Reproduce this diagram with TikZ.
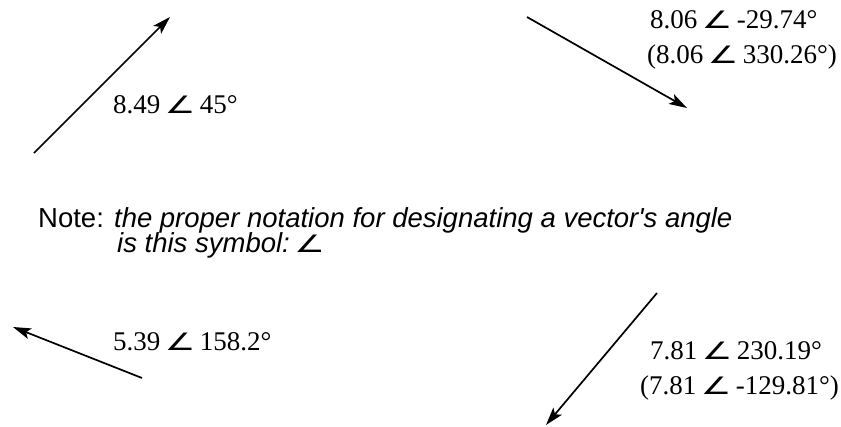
\documentclass[tikz,border=0pt]{standalone}
\usepackage{fontspec}
\usepackage{graphicx}
\setmainfont{Liberation Serif}
\newfontfamily\notefont{Liberation Sans}
\newfontfamily\angfont{DejaVu Sans}
\usetikzlibrary{arrows.meta}
\newcommand{\angsym}{{\angfont\fontsize{20}{20}\selectfont\scalebox{1.7}[1.2]{∠}}}
\tikzset{
  vec/.style={line width=1.7pt, -{Stealth[length=18pt,width=11pt,inset=4pt]}},
  lbl/.style={anchor=base west, inner sep=0pt, font=\fontsize{27}{27}\selectfont},
  notelbl/.style={anchor=base west, inner sep=0pt, font=\notefont\fontsize{27.5}{25}\selectfont}
}
\begin{document}
\begin{tikzpicture}[x=1pt,y=-1pt]
\useasboundingbox (0,0) rectangle (841,426);
% vectors
\coordinate (a1t) at (34,153);  \coordinate (a1h) at (170,17);
\coordinate (a2t) at (527,17);  \coordinate (a2h) at (687,108);
\coordinate (a3t) at (142,378); \coordinate (a3h) at (13,327);
\coordinate (a4t) at (657,293); \coordinate (a4h) at (546,425);
\draw[vec] (a1t) -- (a1h);
\draw[vec] (a2t) -- (a2h);
\draw[vec] (a3t) -- (a3h);
\draw[vec] (a4t) -- (a4h);
% labels
\node[lbl] (l1) at (113,113) {8.49\,\angsym\,45°};
\node[lbl] (l2a) at (650,28) {8.06\,\angsym\,-29.74°};
\node[lbl] (l2b) at (647,63) {(8.06\,\angsym\,330.26°)};
\node[lbl] (l3) at (113,350) {5.39\,\angsym\,158.2°};
\node[lbl] (l4a) at (650,359) {7.81\,\angsym\,230.19°};
\node[lbl] (l4b) at (640,394) {(7.81\,\angsym\,-129.81°)};
% note
\node[notelbl] (n1) at (38,227) {Note: \textit{the proper notation for designating a vector's angle}};
\node[notelbl] (n2) at (117,252) {\textit{is this symbol:\,\angsym}};
\end{tikzpicture}
\end{document}
